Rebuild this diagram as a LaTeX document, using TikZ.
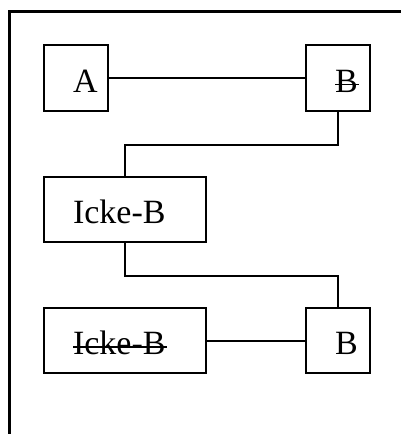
\documentclass[tikz,border=0pt]{standalone}
\usepackage{fontspec}
\setmainfont{Liberation Serif}
\newsavebox{\strkbox}
\newcommand{\strk}[1]{\sbox{\strkbox}{#1}\rlap{\usebox{\strkbox}}\rule[0.2em]{\dimexpr\wd\strkbox+1pt\relax}{1.8pt}}
\newcommand{\boxtext}[2]{\makebox[#1][l]{\hspace*{29pt}#2}}
\begin{document}
\begin{tikzpicture}[x=1pt,y=-1pt,
  bx/.style={draw,line width=2pt,inner sep=0pt,text height=47pt,text depth=18.5pt,
    font=\fontsize{34}{40}\selectfont},
  conn/.style={draw,line width=2pt},
  frame/.style={draw,line width=3pt}]
\useasboundingbox (0,0) rectangle (400,434);
\draw[frame] (9,436) -- (9,11) -- (402,11);
\node[bx] (a)  at (76,78)    {\boxtext{64pt}{A}};
\node[bx] (b1) at (338,78)   {\boxtext{64pt}{\strk{B}}};
\node[bx] (ib) at (125,209.5) {\boxtext{162pt}{Icke-B}};
\node[bx] (is) at (125,340.5) {\boxtext{162pt}{\strk{Icke-B}}};
\node[bx] (b2) at (338,340.5) {\boxtext{64pt}{B}};
\draw[conn] (a.east) -- (b1.west);
\draw[conn] (b1.south) -- ++(0,33) -| (ib.north);
\draw[conn] (ib.south) -- ++(0,33) -| (b2.north);
\draw[conn] (is.east) -- (b2.west);
\end{tikzpicture}
\end{document}
